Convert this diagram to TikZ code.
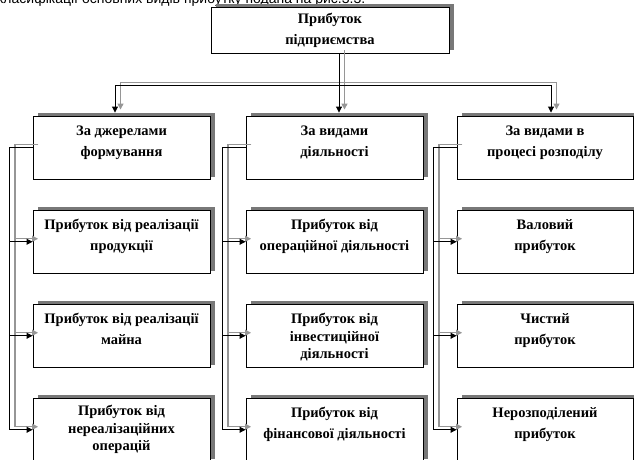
\documentclass[tikz,border=0pt]{standalone}
\usepackage{fontspec}
\setmainfont{Liberation Serif}
\newfontfamily\captionfont{Liberation Sans}
\usetikzlibrary{arrows.meta,calc,shadows}

\definecolor{boxshade}{RGB}{120,120,120}
\definecolor{lineshade}{RGB}{150,150,150}

% centred block of lines whose baseline is the first line
\newcommand\cellstack[2]{\parbox[t]{180pt}{\centering\bfseries\fontsize{14.5}{#1}\selectfont #2}}

% all connectors, drawn once per pass (shade pass, then ink pass)
\newcommand\linkset[1]{%
  \draw[#1,tip] (p0) -- ++(0,32) -| ($(c11.north)+(-6.5,-3)$);
  \draw[#1,tip] (p0) -- ($(p0 |- c21.north)+(0,-3)$);
  \draw[#1,tip] (p0) -- ++(0,32) -| ($(c31.north)+(6,-3)$);
  \foreach \col in {1,2,3}{
    \foreach \row in {2,3,4}{
      \draw[#1,tip] (c\col1.west) -- ++(-23,0) |- (c\col\row.west);
    }
  }
}

\tikzset{
  panel/.style={draw=black, line width=0.9pt, fill=white,
    minimum width=177pt, minimum height=63.5pt, inner sep=0pt,
    general shadow={fill=boxshade, shadow xshift=4.5pt, shadow yshift=3pt}},
  words/.style={anchor=base, inner sep=0pt},
  ink/.style={draw=black, line width=0.9pt},
  shade/.style={draw=lineshade, line width=1.3pt,
    transform canvas={xshift=5.5pt, yshift=3pt}},
  tip/.style={-{Triangle[length=6pt,width=6pt]}},
}

\begin{document}
\begin{tikzpicture}[x=1pt,y=-1pt]
\useasboundingbox (0,0) rectangle (634,460);
\clip (0,0) rectangle (634,460);

% running text above the chart
\node[anchor=base west, inner sep=0pt, font=\captionfont\fontsize{14}{16}\selectfont] (capt)
  at (-3,4) {класифікації основних видів прибутку подана на рис.3.3.};

% root
\node[panel, minimum width=238pt, minimum height=46pt] (root) at (330,30) {};
\node[words] (troot) at ($(root.north)+(0,17)$) {\cellstack{21}{Прибуток\\підприємства}};

% column boxes
\foreach \col/\cx/\w in {1/121.5/177, 2/334.5/177, 3/545/176}{
  \foreach \row/\cy in {1/147.75, 2/241.75, 3/335.75, 4/429.75}{
    \node[panel, minimum width=\w pt] (c\col\row) at (\cx,\cy) {};
  }
}

% texts
\node[words] (t11) at ($(c11.north)+(0,20)$) {\cellstack{21}{За джерелами\\формування}};
\node[words] (t12) at ($(c12.north)+(0,20)$) {\cellstack{21}{Прибуток від реалізації\\продукції}};
\node[words] (t13) at ($(c13.north)+(0,20)$) {\cellstack{21}{Прибуток від реалізації\\майна}};
\node[words] (t14) at ($(c14.north)+(0,18)$) {\cellstack{17.5}{Прибуток від\\нереалізаційних\\операцій}};

\node[words] (t21) at ($(c21.north)+(0,20)$) {\cellstack{21}{За видами\\діяльності}};
\node[words] (t22) at ($(c22.north)+(0,20)$) {\cellstack{21}{Прибуток від\\операційної діяльності}};
\node[words] (t23) at ($(c23.north)+(0,20)$) {\cellstack{17.5}{Прибуток від\\інвестиційної\\діяльності}};
\node[words] (t24) at ($(c24.north)+(0,20)$) {\cellstack{21}{Прибуток від\\фінансової діяльності}};

\node[words] (t31) at ($(c31.north)+(0,20)$) {\cellstack{21}{За видами в\\процесі розподілу}};
\node[words] (t32) at ($(c32.north)+(0,20)$) {\cellstack{21}{Валовий\\прибуток}};
\node[words] (t33) at ($(c33.north)+(0,20)$) {\cellstack{21}{Чистий\\прибуток}};
\node[words] (t34) at ($(c34.north)+(0,20)$) {\cellstack{21}{Нерозподілений\\прибуток}};

% connectors
\coordinate (p0) at ($(root.south)+(9,0)$);
\linkset{shade}
\linkset{ink}
\end{tikzpicture}
\end{document}
